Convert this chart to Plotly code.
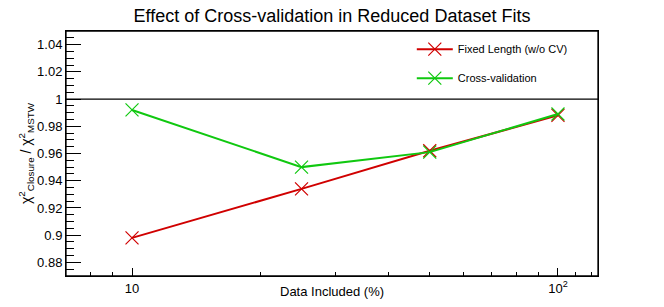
import plotly.graph_objects as go

data_pct = [10, 25, 50, 100]
fixed_length = [0.898, 0.934, 0.962, 0.988]
cross_val = [0.992, 0.950, 0.961, 0.989]
x_tickvals = [10, 100]
x_ticktext = ["10", "10<sup>2</sup>"]
x_minor = [7, 8, 9, 20, 30, 40, 50, 60, 70, 80, 90, 110, 120]
y_tickvals = [0.88, 0.9, 0.92, 0.94, 0.96, 0.98, 1.0, 1.02, 1.04]
y_ticktext = ["0.88", "0.9", "0.92", "0.94", "0.96", "0.98", "1", "1.02", "1.04"]

font = "Liberation Sans, Arial, sans-serif"
x_range = [0.845, 2.094]
y_range = [0.87, 1.05]

fig = go.Figure()
fig.add_trace(go.Scatter(
    x=data_pct, y=fixed_length, mode="lines+markers",
    name="Fixed Length (w/o CV)", legendgroup="a",
    line=dict(color="#d00000", width=2),
    marker=dict(symbol="x-thin-open", size=13, line=dict(color="#7a1010", width=1.2)),
))
fig.add_trace(go.Scatter(
    x=data_pct, y=cross_val, mode="lines+markers",
    name="Cross-validation", legendgroup="b",
    line=dict(color="#10c810", width=2),
    marker=dict(symbol="x-thin-open", size=13, line=dict(color="#1e6e1e", width=1.2)),
))

fig.add_shape(type="line", xref="paper", yref="y", x0=0, x1=1, y0=1.0, y1=1.0,
              line=dict(color="black", width=1.3))
fig.add_shape(type="rect", xref="paper", yref="paper", x0=0, x1=1, y0=0, y1=1,
              line=dict(color="black", width=1.3), fillcolor="rgba(0,0,0,0)")

fig.add_annotation(text="Data Included (%)", xref="paper", yref="paper",
                   x=0.5, y=-0.065, xanchor="center", yanchor="middle",
                   showarrow=False, font=dict(size=13, family=font))

common = dict(ticks="inside", tickcolor="black", tickwidth=1,
              showline=True, linecolor="black", linewidth=1,
              showgrid=False, zeroline=False, automargin=False)

fig.update_layout(
    width=664, height=307,
    margin=dict(l=66, r=66, t=31, b=31, autoexpand=False),
    paper_bgcolor="white", plot_bgcolor="white",
    font=dict(family=font, size=13, color="black"),
    title=dict(text="Effect of Cross-validation in Reduced Dataset Fits",
               x=0.5, xanchor="center", y=0.95, yanchor="middle",
               font=dict(size=18, family=font)),
    showlegend=True,
    legend=dict(x=0.65, y=0.985, xanchor="left", yanchor="top",
                bgcolor="rgba(0,0,0,0)", font=dict(size=11, family=font),
                tracegroupgap=10, itemwidth=36),
    xaxis=dict(type="log", range=x_range, mirror=True,
               tickmode="array", tickvals=x_tickvals, ticktext=x_ticktext, ticklen=8,
               minor=dict(tickmode="array", tickvals=x_minor, ticks="inside",
                          ticklen=4, tickcolor="black", showgrid=False),
               tickfont=dict(size=13), **common),
    xaxis2=dict(type="log", range=x_range, overlaying="x", side="top",
                tickmode="array", tickvals=x_tickvals, ticklen=8, showticklabels=False,
                minor=dict(tickmode="array", tickvals=x_minor, ticks="inside",
                           ticklen=4, tickcolor="black", showgrid=False),
                **common),
    yaxis=dict(range=y_range, mirror=True,
               tickmode="array", tickvals=y_tickvals, ticktext=y_ticktext, ticklen=15,
               minor=dict(tick0=0.87, dtick=0.005, ticks="inside", ticklen=8,
                          tickcolor="black", showgrid=False),
               title=dict(text="χ<sup>2</sup><sub>Closure</sub> / χ<sup>2</sup><sub>MSTW</sub>",
                          standoff=2, font=dict(size=14)),
               tickfont=dict(size=13), **common),
    yaxis2=dict(range=y_range, overlaying="y", side="right",
                tickmode="array", tickvals=y_tickvals, ticklen=15, showticklabels=False,
                minor=dict(tick0=0.87, dtick=0.005, ticks="inside", ticklen=8,
                           tickcolor="black", showgrid=False),
                **common),
)

fig.write_html("out.html", config={"displayModeBar": False},
               post_script="document.body.style.margin='0';")
